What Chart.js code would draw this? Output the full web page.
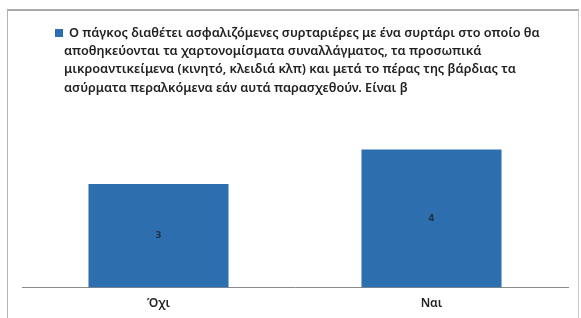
<!DOCTYPE html>
<html>
<head>
<meta charset="utf-8">
<script src="https://cdn.jsdelivr.net/npm/chart.js@4"></script>
<style>
  body { margin: 0; background: #fff; }
  #frame {
    position: absolute; left: 7px; top: 9px; width: 570px; height: 320px;
    border-top: 2px solid #a8a8a8; border-left: 1px solid #b4b4b4; border-right: 1px solid #c8c8c8;
  }
  #wrap { position: absolute; left: 0; top: 0; width: 581px; height: 318px; }
</style>
</head>
<body>
<div id="frame"></div>
<div id="wrap"><canvas id="myChart" width="581" height="318"></canvas></div>
<script>
// chart data
const categories = ["Όχι", "Ναι"];
const counts = [3, 4];
const seriesName = "Ο πάγκος διαθέτει ασφαλιζόμενες συρταριέρες με ένα συρτάρι στο οποίο θα αποθηκεύονται τα χαρτονομίσματα συναλλάγματος, τα προσωπικά μικροαντικείμενα (κινητό, κλειδιά κλπ) και μετά το πέρας της βάρδιας τα ασύρματα περαλκόμενα εάν αυτά παρασχεθούν. Είναι β";
const titleLines = [
  "Ο πάγκος διαθέτει ασφαλιζόμενες συρταριέρες με ένα συρτάρι στο οποίο θα",
  "αποθηκεύονται τα χαρτονομίσματα συναλλάγματος, τα προσωπικά",
  "μικροαντικείμενα (κινητό, κλειδιά κλπ) και μετά το πέρας της βάρδιας τα",
  "ασύρματα περαλκόμενα εάν αυτά παρασχεθούν. Είναι β"
];

const barColor = "#2d6fae";

// legend block with wrapped series name
const legendBlock = {
  id: "legendBlock",
  afterDraw(chart) {
    const ctx = chart.ctx;
    ctx.save();
    ctx.fillStyle = barColor;
    ctx.fillRect(55, 29, 8, 8);
    ctx.fillStyle = "#222";
    ctx.font = "600 12.7px 'Noto Sans'";
    ctx.textBaseline = "middle";
    titleLines.forEach(function (line, i) {
      const x = i === 0 ? 69 : 64;
      ctx.fillText(line, x, 33 + i * 18.3);
    });
    ctx.restore();
  }
};

// value labels in the middle of each bar
const barValues = {
  id: "barValues",
  afterDatasetsDraw(chart) {
    const ctx = chart.ctx;
    const meta = chart.getDatasetMeta(0);
    ctx.save();
    ctx.fillStyle = "#1f3247";
    ctx.font = "bold 9px 'DejaVu Sans'";
    ctx.textAlign = "center";
    ctx.textBaseline = "middle";
    meta.data.forEach(function (bar, i) {
      const mid = (bar.y + bar.base) / 2;
      ctx.fillText(counts[i], bar.x, mid);
    });
    ctx.restore();
  }
};

new Chart("myChart", {
  type: "bar",
  data: {
    labels: categories,
    datasets: [{
      label: seriesName,
      data: counts,
      backgroundColor: barColor,
      borderWidth: 0,
      barPercentage: 1,
      categoryPercentage: 0.513
    }]
  },
  options: {
    responsive: false,
    animation: false,
    layout: { padding: { top: 115, left: 22, right: 13, bottom: 6 } },
    plugins: {
      legend: { display: false },
      title: { display: false },
      tooltip: { enabled: false }
    },
    scales: {
      x: {
        grid: { display: false },
        border: { display: true, color: "#8a8a8a", width: 1 },
        ticks: {
          color: "#222",
          padding: 1,
          font: { family: "'Noto Sans'", size: 12, weight: "600" }
        }
      },
      y: {
        display: false,
        min: 0,
        max: 5
      }
    }
  },
  plugins: [legendBlock, barValues]
});
</script>
</body>
</html>
